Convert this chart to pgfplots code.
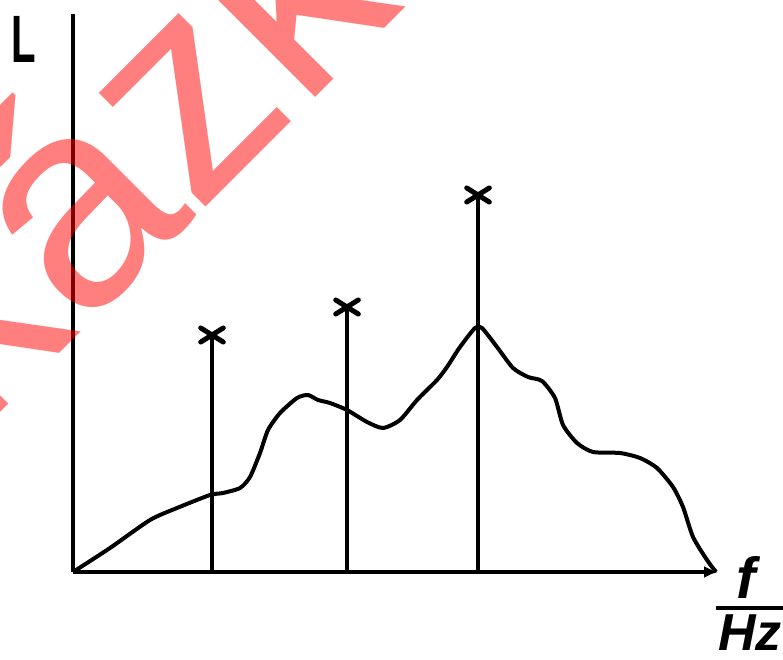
\documentclass[border=0pt]{standalone}
\usepackage{pgfplots}
\pgfplotsset{compat=1.18}
\usepackage{fontspec}
\setmainfont{Liberation Sans}
\usetikzlibrary{arrows.meta}
\begin{document}
\begin{tikzpicture}
\path[use as bounding box] (0,0) rectangle (783pt,659pt);
\clip (0,0) rectangle (783pt,659pt);
\begin{axis}[
  at={(73pt,87pt)}, anchor=south west,
  scale only axis, width=645pt, height=558pt,
  xmin=0, xmax=645, ymin=0, ymax=558,
  axis x line=bottom, axis y line=left,
  axis line style={line width=4.5pt},
  x axis line style={-{Latex[length=14pt,width=12pt]}},
  y axis line style={-},
  xtick=\empty, ytick=\empty,
  clip=false,
]
\addplot[black, line width=4pt, smooth, tension=0.4, line join=round] coordinates {
(0,0) (37,24) (77,52) (104,64) (137,77) (150,79) (167,84) (177,95)
(187,119) (195,142) (207,159) (224,174) (235,177) (245,172) (257,169)
(274,162) (294,150) (310,144) (327,152) (344,172) (364,192) (374,205)
(387,225) (402,244) (409,244) (424,225) (440,204) (455,195) (469,191)
(482,174) (490,147) (504,129) (520,120) (547,119) (567,114) (584,104)
(600,85) (610,65) (620,35) (634,12) (643,0)
};
\addplot[black, line width=4pt, ycomb, mark=x,
  mark options={xscale=1.6, line width=5pt, line cap=round}, mark size=10pt]
  coordinates {(139,237) (274,265) (405,377)};
\end{axis}
\node[font=\fontsize{67}{67}\selectfont\bfseries, xscale=0.6, anchor=north] at (24pt,646pt) {L};
\node[font=\fontsize{58}{58}\selectfont\bfseries\itshape, anchor=south, inner sep=0pt] at (746pt,60pt) {f};
\draw[line width=3.5pt] (716pt,51pt) -- (783pt,51pt);
\node[font=\fontsize{52}{52}\selectfont\bfseries\itshape, anchor=north, inner sep=0pt] at (750pt,44pt) {Hz};
\node[rotate=45, anchor=base west, inner sep=0pt, text=red, text opacity=0.5,
  font=\fontsize{295}{295}\selectfont] at (-174pt,72pt) {Ukázka};
\end{tikzpicture}
\end{document}
